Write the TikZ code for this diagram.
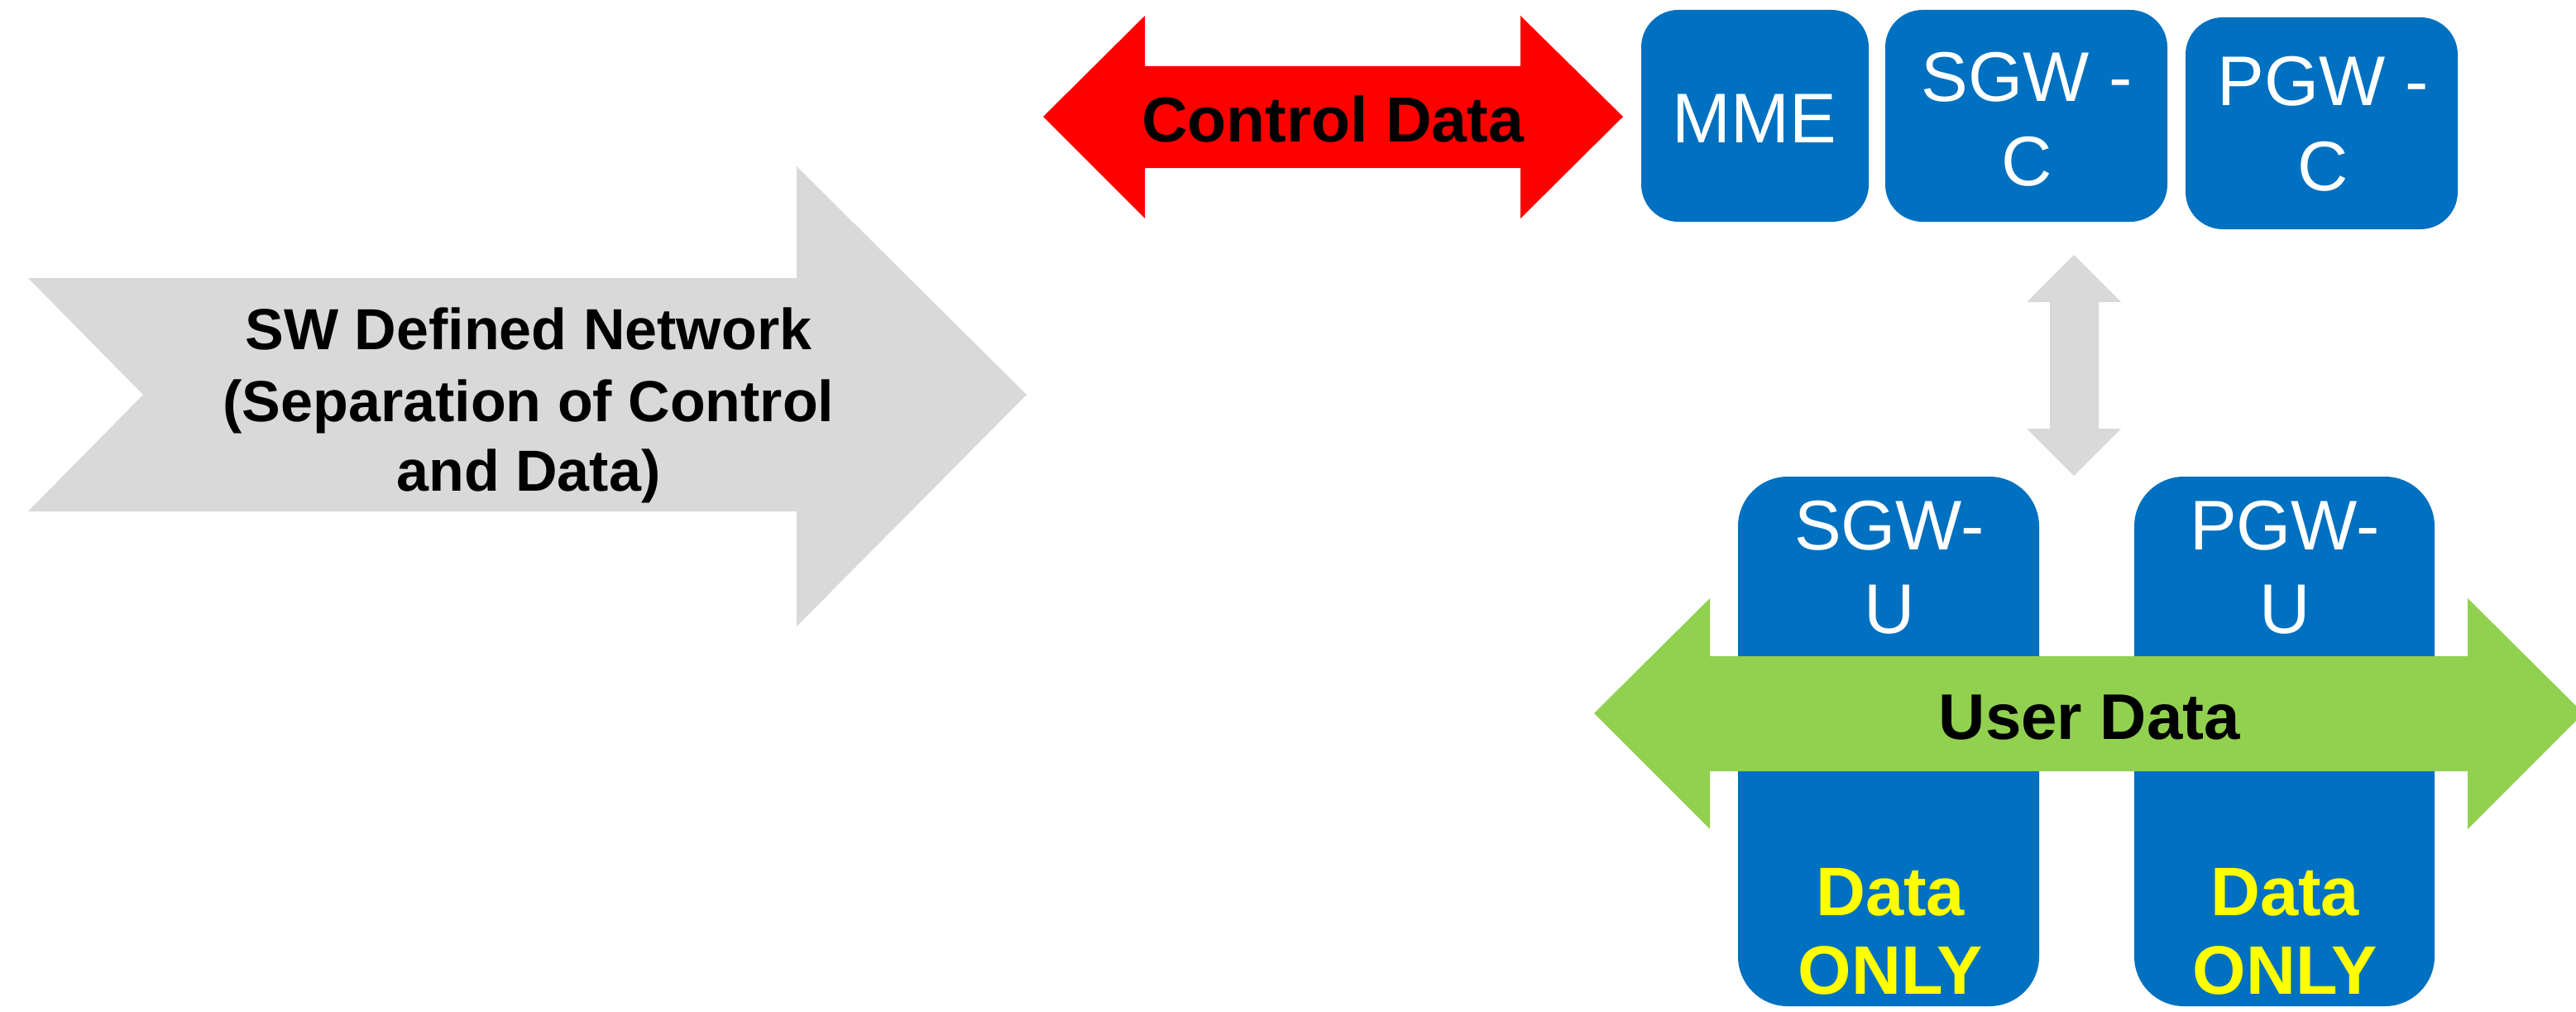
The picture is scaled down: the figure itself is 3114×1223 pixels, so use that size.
\documentclass[tikz,border=0pt]{standalone}
\usepackage{fontspec}
\setmainfont{Liberation Sans}
\definecolor{boxblue}{HTML}{0070C0}
\definecolor{ctlred}{HTML}{FF0000}
\definecolor{usrgreen}{HTML}{92D050}
\definecolor{sdngray}{HTML}{D9D9D9}
\definecolor{onlyyellow}{HTML}{FFFF00}
\newcommand\fsz[1]{\fontsize{#1}{#1}\selectfont}
\begin{document}
\begin{tikzpicture}[x=1pt,y=-1pt,
  nodebox/.style={fill=boxblue, draw=none, inner sep=0pt, rounded corners=#1},
  lbl/.style={inner sep=0pt, anchor=base},
  boxtext/.style={lbl, text=white, font=\fsz{85}},
  arrowtext/.style={lbl, text=black, font=\fsz{#1}\bfseries},
  onlytext/.style={lbl, text=onlyyellow, font=\fsz{83}\bfseries}]
\path[use as bounding box] (0,0) rectangle (3114,1223);
\clip (0,0) rectangle (3114,1223);

% big notched arrow: software defined network
\fill[sdngray] (34,336) -- (963,336) -- (963,201) -- (1241,477) -- (963,757)
  -- (963,618) -- (34,618) -- (173,477) -- cycle;
\node[arrowtext=70] (sdn1) at (639,422) {SW Defined Network};
\node[arrowtext=70] (sdn2) at (639,509) {(Separation of Control};
\node[arrowtext=70] (sdn3) at (639,593) {and Data)};

% control plane double arrow
\fill[ctlred] (1261,141) -- (1384,19) -- (1384,80) -- (1838,80) -- (1838,19)
  -- (1962,141) -- (1838,264) -- (1838,203) -- (1384,203) -- (1384,264) -- cycle;
\node[arrowtext=77] (ctl) at (1611,171) {Control Data};

% control plane entities
\node[nodebox=45pt, minimum width=275pt, minimum height=256pt] (mme) at (2121.5,140) {};
\node[nodebox=45pt, minimum width=341pt, minimum height=256pt] (sgwc) at (2449.5,140) {};
\node[nodebox=45pt, minimum width=329pt, minimum height=256pt] (pgwc) at (2806.5,149) {};
\node[boxtext] (mmeT) at (2121,172) {MME};
\node[boxtext] (sgwcA) at (2450,122) {SGW -};
\node[boxtext] (sgwcB) at (2450,224) {C};
\node[boxtext] (pgwcA) at (2808,127) {PGW -};
\node[boxtext] (pgwcB) at (2808,230) {C};

% link between control and user plane
\coordinate (cuTop) at (2507,308);
\coordinate (cuBot) at (2507,575);
\fill[sdngray] (cuTop) -- (2564,365) -- (2537,365) -- (2537,518) -- (2564,518)
  -- (cuBot) -- (2450,518) -- (2478,518) -- (2478,365) -- (2450,365) -- cycle;

% user plane entities
\node[nodebox=60pt, minimum width=364pt, minimum height=640pt] (sgwu) at (2283,896) {};
\node[nodebox=60pt, minimum width=363pt, minimum height=640pt] (pgwu) at (2761.5,896) {};
\node[boxtext] (sgwuA) at (2284,664) {SGW-};
\node[boxtext] (sgwuB) at (2284,765) {U};
\node[boxtext] (pgwuA) at (2762,664) {PGW-};
\node[boxtext] (pgwuB) at (2762,765) {U};
\node[onlytext] (sgwuD) at (2285,1106) {Data};
\node[onlytext] (sgwuO) at (2285,1201) {ONLY};
\node[onlytext] (pgwuD) at (2762,1106) {Data};
\node[onlytext] (pgwuO) at (2762,1201) {ONLY};

% user plane double arrow
\fill[usrgreen] (1927,862) -- (2067,723) -- (2067,793) -- (2983,793) -- (2983,723)
  -- (3123,862) -- (2983,1002) -- (2983,932) -- (2067,932) -- (2067,1002) -- cycle;
\node[arrowtext=78] (usr) at (2526,893) {User Data};
\end{tikzpicture}
\end{document}
